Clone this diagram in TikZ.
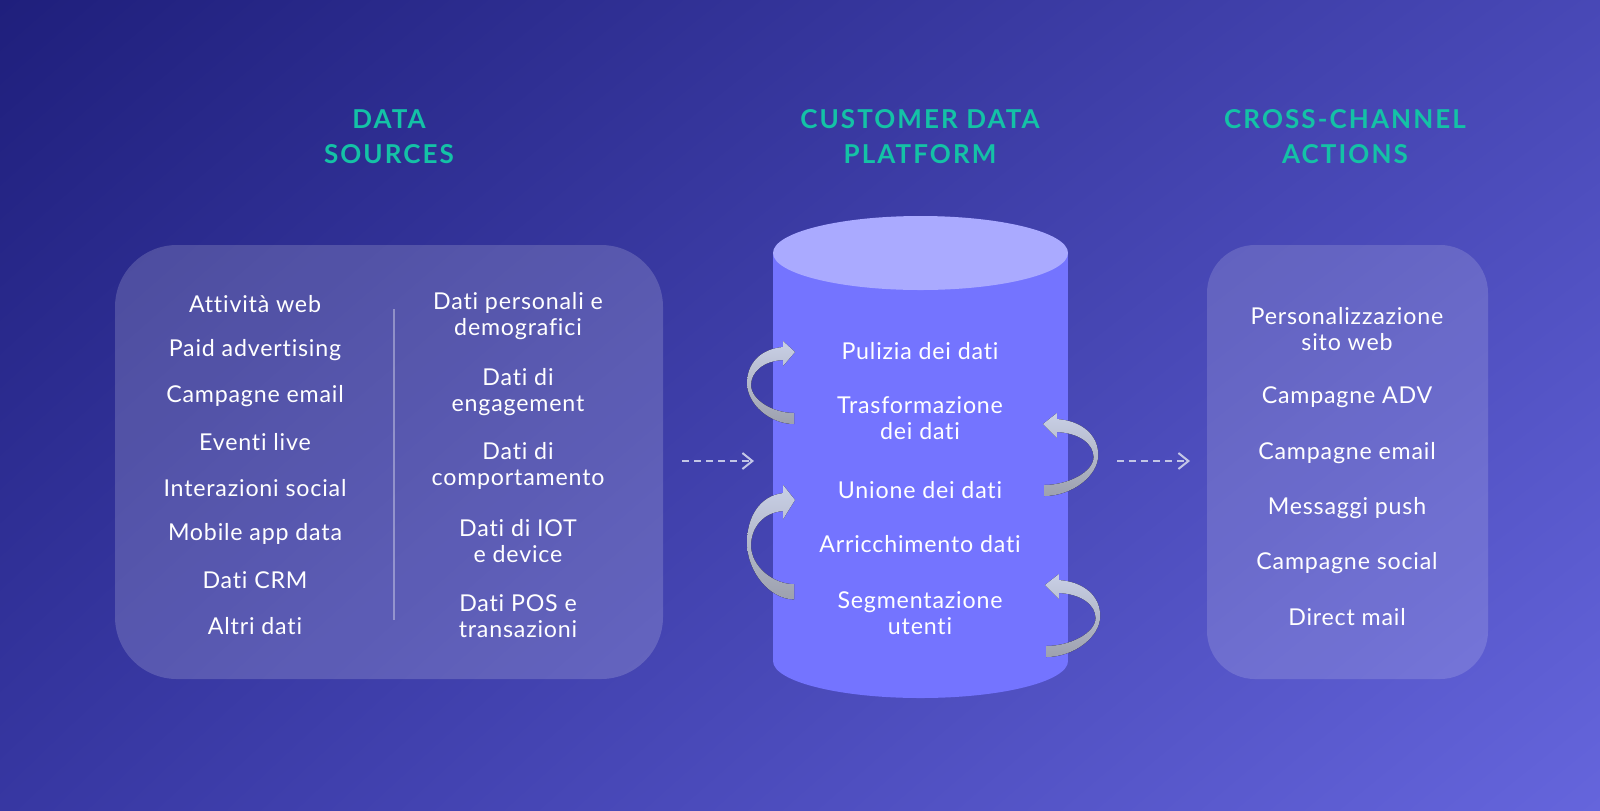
\documentclass[tikz,border=0pt]{standalone}
\usepackage{fontspec}
\setmainfont{Lato}[Ligatures={NoCommon,NoRare}, LetterSpace=3.5]
\newfontfamily\headfont{Lato}[Ligatures={NoCommon,NoRare}, LetterSpace=8]
\usetikzlibrary{arrows.meta,shadings}
\definecolor{bgA}{HTML}{1F1F7C}
\definecolor{bgB}{HTML}{6565DC}
\definecolor{bgUR}{HTML}{4848B6}
\definecolor{bgLL}{HTML}{3737A2}
\definecolor{headteal}{HTML}{14C2A6}
\definecolor{cylbody}{HTML}{7474FF}
\definecolor{cyltop}{HTML}{AAAAFF}
\definecolor{arrlight}{HTML}{C9D0E6}
\definecolor{arrdark}{HTML}{9DA1AE}
\definecolor{dashc}{HTML}{C3C6E6}
\tikzset{
  item/.style={text=white, align=center, font=\fontsize{11.6pt}{13pt}\selectfont, inner sep=0pt},
  heading/.style={text=headteal, align=center, font=\headfont\bfseries\fontsize{13pt}{17.5pt}\selectfont, inner sep=0pt},
  flowarrow/.style={dashc, line width=1pt, dash pattern=on 3.5pt off 2.5pt, -{Straight Barb[length=5pt,width=8pt,line width=1pt]}},
  ribbon/.style={top color=arrlight, bottom color=arrdark, draw=none},
}
\newcommand\ribbonpath{%
  (0,0) -- (-12,-11) -- (-12,-5)
  .. controls (-35,-3) and (-48,12) .. (-48,31)
  .. controls (-48,52) and (-25,72) .. (-1,72)
  -- (-1,61)
  .. controls (-22,61) and (-44,48) .. (-44,33)
  .. controls (-44,20) and (-32,9) .. (-12,8)
  -- (-12,14) -- cycle}
\begin{document}
\begin{tikzpicture}[x=0.5pt,y=-0.5pt]
\useasboundingbox (0,0) rectangle (1600,810);
\shade[upper left=bgA, upper right=bgUR, lower left=bgLL, lower right=bgB] (0,0) rectangle (1600,810);

% headings
\node[heading] (h1) at (389,137) {DATA\\SOURCES};
\node[heading] (h2) at (920,137) {CUSTOMER DATA\\PLATFORM};
\node[heading] (h3) at (1345,137) {CROSS-CHANNEL\\ACTIONS};

% left box
\fill[white, fill opacity=0.17, rounded corners=31pt] (115,245) rectangle (663,679);
\draw[white, opacity=0.35, line width=1pt] (394,309) -- (394,620);
\node[item] (s1) at (255,304) {Attività web};
\node[item] (s2) at (255,350) {Paid advertising};
\node[item] (s3) at (255,396) {Campagne email};
\node[item] (s4) at (255,442) {Eventi live};
\node[item] (s5) at (255,488) {Interazioni social};
\node[item] (s6) at (255,534) {Mobile app data};
\node[item] (s7) at (255,580) {Dati CRM};
\node[item] (s8) at (255,626) {Altri dati};
\node[item] (d1) at (518,316) {Dati personali e\\demografici};
\node[item] (d2) at (518,392) {Dati di\\engagement};
\node[item] (d3) at (518,466) {Dati di\\comportamento};
\node[item] (d4) at (518,541.5) {Dati di IOT\\e device};
\node[item] (d5) at (518,616) {Dati POS e\\transazioni};

% cylinder
\fill[cylbody] (920.5,661) ellipse [x radius=147.5, y radius=37];
\fill[cylbody] (773,253) rectangle (1068,661);
\fill[cyltop] (920.5,253) ellipse [x radius=147.5, y radius=37];
\node[item] (c1) at (920,351) {Pulizia dei dati};
\node[item] (c2) at (920,418.5) {Trasformazione\\dei dati};
\node[item] (c3) at (920,490) {Unione dei dati};
\node[item] (c4) at (920,544) {Arricchimento dati};
\node[item] (c5) at (920,613.5) {Segmentazione\\utenti};

% ribbon arrows
\begin{scope}[shift={(795,352)}]
  \fill[ribbon] \ribbonpath;
\end{scope}
\begin{scope}[shift={(795,500)}, yscale=1.38]
  \fill[ribbon] \ribbonpath;
\end{scope}
\begin{scope}[shift={(1043,424)}, xscale=-1.15]
  \fill[ribbon] \ribbonpath;
\end{scope}
\begin{scope}[shift={(1045,585)}, xscale=-1.15]
  \fill[ribbon] \ribbonpath;
\end{scope}

% right box
\fill[white, fill opacity=0.15, rounded corners=24pt] (1207,245) rectangle (1488,679);
\node[item] (a1) at (1347,329) {Personalizzazione\\sito web};
\node[item] (a2) at (1347,397) {Campagne ADV};
\node[item] (a3) at (1347,453) {Campagne email};
\node[item] (a4) at (1347,508) {Messaggi push};
\node[item] (a5) at (1347,563) {Campagne social};
\node[item] (a6) at (1347,617) {Direct mail};

% dashed arrows
\coordinate (f1s) at (682,461);
\coordinate (f1e) at (754,461);
\coordinate (f2s) at (1117,461);
\coordinate (f2e) at (1190,461);
\draw[flowarrow] (f1s) -- (f1e);
\draw[flowarrow] (f2s) -- (f2e);
\end{tikzpicture}
\end{document}
